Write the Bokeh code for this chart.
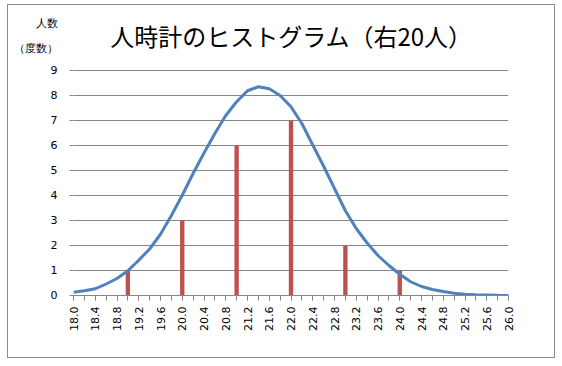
import math
from bokeh.plotting import figure
from bokeh.models import FixedTicker, Label, NumeralTickFormatter, Range1d
from bokeh.embed import file_html
from bokeh.resources import INLINE

title_text = "人時計のヒストグラム（右20人）"
y_label_1 = "人数"
y_label_2 = "（度数）"

x_values = [18.0, 18.2, 18.4, 18.6, 18.8, 19.0, 19.2, 19.4, 19.6, 19.8,
            20.0, 20.2, 20.4, 20.6, 20.8, 21.0, 21.2, 21.4, 21.6, 21.8,
            22.0, 22.2, 22.4, 22.6, 22.8, 23.0, 23.2, 23.4, 23.6, 23.8,
            24.0, 24.2, 24.4, 24.6, 24.8, 25.0, 25.2, 25.4, 25.6, 25.8, 26.0]
curve_values = [0.13, 0.19, 0.27, 0.46, 0.68, 0.99, 1.41, 1.86, 2.45, 3.20,
                4.01, 4.88, 5.70, 6.48, 7.20, 7.75, 8.19, 8.35, 8.27, 8.00,
                7.55, 6.88, 6.02, 5.17, 4.28, 3.39, 2.68, 2.10, 1.60, 1.20,
                0.85, 0.55, 0.36, 0.24, 0.16, 0.09, 0.05, 0.03, 0.02, 0.01, 0.005]
bar_x = [19.0, 20.0, 21.0, 22.0, 23.0, 24.0]
bar_counts = [1, 3, 6, 7, 2, 1]
label_ticks = [18.0, 18.4, 18.8, 19.2, 19.6, 20.0, 20.4, 20.8, 21.2, 21.6,
               22.0, 22.4, 22.8, 23.2, 23.6, 24.0, 24.4, 24.8, 25.2, 25.6, 26.0]
y_ticks = [0, 1, 2, 3, 4, 5, 6, 7, 8, 9]

# positions (in y units, above the top tick) used for the y-axis caption lines
caption_pos_1 = 10.88
caption_pos_2 = 9.90

CJK = "Noto Sans CJK JP"
NUM = "DejaVu Sans"
GRID = "#868686"

p = figure(width=546, height=352, output_backend="svg", toolbar_location=None,
           x_range=Range1d(18.0, 26.0), y_range=Range1d(0, 11.48),
           min_border_left=65, min_border_right=46, min_border_top=3, min_border_bottom=62)
p.margin = (5, 0, 0, 8)
p.styles = {"outline": "1px solid #8c8c8c"}
p.outline_line_color = None
p.border_fill_color = None
p.background_fill_color = "white"

# bars
p.vbar(x=bar_x, top=bar_counts, bottom=0, width=0.08, fill_color="#C0504D", line_color=None)
# curve
p.line(x=x_values, y=curve_values, line_color="#4F81BD", line_width=3)

# x axis
xa = p.xaxis[0]
xa.ticker = FixedTicker(ticks=label_ticks, minor_ticks=x_values)
xa.formatter = NumeralTickFormatter(format="0.0")
xa.major_label_orientation = math.pi / 2
xa.major_label_text_font = NUM
xa.major_label_text_font_size = "11px"
xa.major_label_text_color = "black"
xa.axis_line_color = GRID
xa.major_tick_line_color = GRID
xa.minor_tick_line_color = GRID
xa.major_tick_out = 5
xa.major_tick_in = 0
xa.minor_tick_out = 5
xa.minor_tick_in = 0
xa.major_label_standoff = 6

# y axis: numbers 0-9 plus the caption lines above
ya = p.yaxis[0]
ya.ticker = FixedTicker(ticks=y_ticks + [caption_pos_2, caption_pos_1], minor_ticks=y_ticks)
ya.major_label_overrides = {caption_pos_1: y_label_1, caption_pos_2: y_label_2}
ya.major_label_text_font = NUM
ya.major_label_text_font_size = "11px"
ya.major_label_text_color = "black"
ya.axis_line_color = None
ya.major_tick_line_color = None
ya.major_tick_out = 0
ya.major_tick_in = 0
ya.minor_tick_line_color = GRID
ya.minor_tick_out = 4
ya.minor_tick_in = 0
ya.major_label_standoff = 12

# y axis line from 0 to 9 (grid line at the first category)
p.xgrid.ticker = FixedTicker(ticks=[x_values[0]])
p.xgrid.bounds = (y_ticks[0], y_ticks[-1])
p.xgrid.grid_line_color = GRID
p.xgrid.grid_line_width = 1

p.ygrid.ticker = FixedTicker(ticks=y_ticks)
p.ygrid.grid_line_color = GRID
p.ygrid.grid_line_width = 1

# title inside the (extended) frame, screen units from frame bottom-left
p.add_layout(Label(x=218, y=260, x_units="screen", y_units="screen", text=title_text,
                   text_font=CJK, text_font_size="24px", text_align="center",
                   text_baseline="middle", text_color="black"))

open("out.html", "w").write(file_html(p, INLINE))
